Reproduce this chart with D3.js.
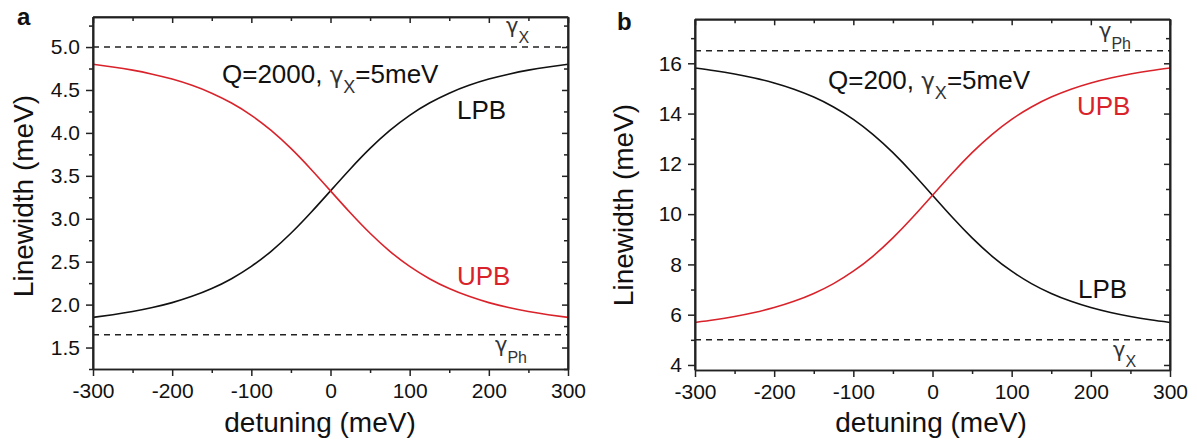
<!DOCTYPE html>
<html>
<head>
<meta charset="utf-8">
<script src="https://cdn.jsdelivr.net/npm/d3@7"></script>
<style>
  html, body { margin: 0; padding: 0; background: #fff; }
  svg { display: block; font-family: "Liberation Sans", Arial, sans-serif; }
</style>
</head>
<body>
<svg id="chart" width="1197" height="440"></svg>
<script>
// ---- data ----
const detuning = [-300,-275,-250,-225,-200,-175,-150,-125,-100,-75,-50,-25,0,25,50,75,100,125,150,175,200,225,250,275,300];

// panel a : Q = 2000
const lpbA = [1.851,1.882,1.919,1.966,2.023,2.096,2.187,2.302,2.445,2.621,2.831,3.070,3.325,3.580,3.819,4.029,4.205,4.348,4.463,4.554,4.627,4.684,4.731,4.768,4.799];
const upbA = [4.799,4.768,4.731,4.684,4.627,4.554,4.463,4.348,4.205,4.029,3.819,3.580,3.325,3.070,2.831,2.621,2.445,2.302,2.187,2.096,2.023,1.966,1.919,1.882,1.851];
const gammaXA = 5.0;
const gammaPhA = 1.65;

// panel b : Q = 200
const lpbB = [15.810,15.704,15.575,15.416,15.218,14.970,14.657,14.263,13.770,13.166,12.446,11.627,10.750,9.873,9.054,8.334,7.730,7.237,6.843,6.530,6.282,6.084,5.925,5.796,5.690];
const upbB = [5.690,5.796,5.925,6.084,6.282,6.530,6.843,7.237,7.730,8.334,9.054,9.873,10.750,11.627,12.446,13.166,13.770,14.263,14.657,14.970,15.218,15.416,15.575,15.704,15.810];
const gammaPhB = 16.5;
const gammaXB = 5.0;

const xTicks = [-300,-200,-100,0,100,200,300];
const xMinorTicks = [-250,-150,-50,50,150,250];
const yTicksA = [1.5,2.0,2.5,3.0,3.5,4.0,4.5,5.0];
const yMinorTicksA = [1.25,1.75,2.25,2.75,3.25,3.75,4.25,4.75,5.25];
const yTicksB = [4,6,8,10,12,14,16];
const yMinorTicksB = [5,7,9,11,13,15,17];

// ---- drawing ----
const svg = d3.select("#chart");
const RED = "#d9232b";
const INK = "#111";
const AX = "#222";
const GREEK = '"DejaVu Sans", "Liberation Sans", sans-serif';

function panel(cfg) {
  const g = svg.append("g");
  const x = d3.scaleLinear().domain([-300, 300]).range([cfg.left, cfg.right]);
  const y = d3.scaleLinear().domain(cfg.yDomain).range([cfg.bottom, cfg.top]);

  // dashed reference lines
  cfg.refs.forEach(v => {
    g.append("line")
      .attr("x1", x(-300)).attr("x2", x(300))
      .attr("y1", y(v)).attr("y2", y(v))
      .attr("stroke", "#222").attr("stroke-width", 1.5)
      .attr("stroke-dasharray", "6,5");
  });

  // curves
  const line = d3.line().x((d, i) => x(detuning[i])).y(d => y(d)).curve(d3.curveNatural);
  cfg.series.forEach(s => {
    g.append("path").datum(s.values)
      .attr("d", line)
      .attr("fill", "none")
      .attr("stroke", s.color)
      .attr("stroke-width", 1.6);
  });

  function styleAxis(sel) {
    sel.selectAll("path.domain").attr("stroke", AX).attr("stroke-width", 1.6);
    sel.selectAll(".tick line").attr("stroke", AX).attr("stroke-width", 1.5);
    sel.selectAll(".tick text").attr("fill", INK).style("font-size", "21px")
      .style("font-family", '"Liberation Sans", Arial, sans-serif');
  }
  const fmtX = d => String(d);

  // bottom axis (outward ticks, labels)
  const gb = g.append("g").attr("transform", `translate(0,${cfg.bottom})`)
    .call(d3.axisBottom(x).tickValues(xTicks).tickSize(7).tickSizeOuter(0).tickPadding(7).tickFormat(fmtX));
  styleAxis(gb);
  const gbm = g.append("g").attr("transform", `translate(0,${cfg.bottom})`)
    .call(d3.axisBottom(x).tickValues(xMinorTicks).tickSize(4).tickSizeOuter(0).tickFormat(""));
  styleAxis(gbm);

  // top axis (inward ticks)
  const gt = g.append("g").attr("transform", `translate(0,${cfg.top})`)
    .call(d3.axisBottom(x).tickValues(xTicks).tickSize(6).tickSizeOuter(0).tickFormat(""));
  styleAxis(gt);
  const gtm = g.append("g").attr("transform", `translate(0,${cfg.top})`)
    .call(d3.axisBottom(x).tickValues(xMinorTicks).tickSize(4).tickSizeOuter(0).tickFormat(""));
  styleAxis(gtm);

  // left axis (outward ticks, labels)
  const gl = g.append("g").attr("transform", `translate(${cfg.left},0)`)
    .call(d3.axisLeft(y).tickValues(cfg.yTicks).tickSize(7).tickSizeOuter(0).tickPadding(6).tickFormat(cfg.yFormat));
  styleAxis(gl);
  const glm = g.append("g").attr("transform", `translate(${cfg.left},0)`)
    .call(d3.axisLeft(y).tickValues(cfg.yMinor).tickSize(4).tickSizeOuter(0).tickFormat(""));
  styleAxis(glm);

  // right axis (inward ticks)
  const gr = g.append("g").attr("transform", `translate(${cfg.right},0)`)
    .call(d3.axisLeft(y).tickValues(cfg.yTicks).tickSize(6).tickSizeOuter(0).tickFormat(""));
  styleAxis(gr);
  const grm = g.append("g").attr("transform", `translate(${cfg.right},0)`)
    .call(d3.axisLeft(y).tickValues(cfg.yMinor).tickSize(4).tickSizeOuter(0).tickFormat(""));
  styleAxis(grm);

  // frame lines
  g.append("line").attr("x1", cfg.left).attr("x2", cfg.right).attr("y1", cfg.top).attr("y2", cfg.top)
    .attr("stroke", AX).attr("stroke-width", 1.6);
  g.append("line").attr("x1", cfg.right).attr("x2", cfg.right).attr("y1", cfg.top).attr("y2", cfg.bottom)
    .attr("stroke", AX).attr("stroke-width", 1.6);
  g.append("line").attr("x1", cfg.left).attr("x2", cfg.left).attr("y1", cfg.top).attr("y2", cfg.bottom)
    .attr("stroke", AX).attr("stroke-width", 1.6);

  // axis titles
  g.append("text").attr("x", cfg.xTitleX).attr("y", 432)
    .attr("text-anchor", "middle").attr("fill", INK).style("font-size", "28px")
    .text("detuning (meV)");
  g.append("text")
    .attr("transform", `translate(${cfg.yTitleX},${cfg.yTitleY}) rotate(-90)`)
    .attr("text-anchor", "middle").attr("fill", INK).style("font-size", cfg.yTitleSize + "px")
    .text("Linewidth (meV)");

  // panel letter
  g.append("text").attr("x", cfg.letterX).attr("y", cfg.letterY)
    .attr("fill", INK).style("font-size", "24px").style("font-weight", "bold")
    .text(cfg.letter);

  // annotation "Q=..., γX=5meV"
  const t = g.append("text").attr("x", cfg.noteX).attr("y", cfg.noteY)
    .attr("fill", INK).style("font-size", "26px");
  t.append("tspan").text(cfg.noteQ + ", ");
  t.append("tspan").attr("fill", "#333").style("font-size", "23px").style("font-family", GREEK).text("γ");
  t.append("tspan").attr("dy", 10).style("font-size", "18px").attr("fill", "#333").text("X");
  t.append("tspan").attr("dy", -10).text("=5meV");

  // branch labels
  cfg.labels.forEach(l => {
    g.append("text").attr("x", l.x).attr("y", l.y).attr("fill", l.color)
      .style("font-size", "26px").text(l.text);
  });

  // gamma labels at dashed lines
  cfg.gammas.forEach(l => {
    const tt = g.append("text").attr("x", l.x).attr("y", l.y).attr("fill", "#333")
      .style("font-size", "21px");
    tt.append("tspan").style("font-family", GREEK).text("γ");
    tt.append("tspan").attr("dy", l.sub === "X" ? 10 : 11).style("font-size", "16px").text(l.sub);
  });
}

panel({
  left: 93, right: 568, top: 17, bottom: 369,
  yDomain: [1.25, 5.35],
  yTicks: yTicksA, yMinor: yMinorTicksA, yFormat: d3.format(".1f"),
  refs: [gammaXA, gammaPhA],
  series: [{ values: lpbA, color: INK }, { values: upbA, color: RED }],
  xTitleX: 320, yTitleX: 33, yTitleY: 196, yTitleSize: 28,
  letter: "a", letterX: 17, letterY: 25,
  noteQ: "Q=2000", noteX: 222, noteY: 83,
  labels: [
    { text: "LPB", x: 457, y: 119, color: INK },
    { text: "UPB", x: 457, y: 285, color: RED }
  ],
  gammas: [
    { sub: "X", x: 506, y: 33 },
    { sub: "Ph", x: 495, y: 352 }
  ]
});

panel({
  left: 695, right: 1170, top: 19.3, bottom: 370,
  yDomain: [3.8, 17.75],
  yTicks: yTicksB, yMinor: yMinorTicksB, yFormat: d3.format("d"),
  refs: [gammaPhB, gammaXB],
  series: [{ values: lpbB, color: INK }, { values: upbB, color: RED }],
  xTitleX: 931, yTitleX: 633, yTitleY: 205, yTitleSize: 28,
  letter: "b", letterX: 617, letterY: 30,
  noteQ: "Q=200", noteX: 828, noteY: 89,
  labels: [
    { text: "UPB", x: 1077, y: 115, color: RED },
    { text: "LPB", x: 1078, y: 298, color: INK }
  ],
  gammas: [
    { sub: "Ph", x: 1099, y: 38 },
    { sub: "X", x: 1113, y: 357 }
  ]
});
</script>
</body>
</html>
